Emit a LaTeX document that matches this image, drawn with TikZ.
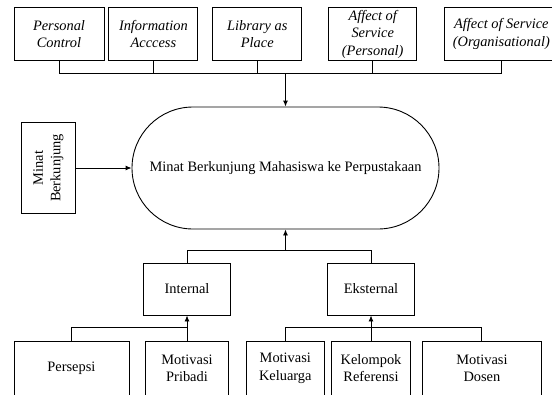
\documentclass[tikz,border=0pt]{standalone}
\usepackage{fontspec}
\setmainfont{Liberation Serif}
\usetikzlibrary{positioning,arrows.meta}

\begin{document}
\begin{tikzpicture}[x=1pt, y=1pt, font=\fontsize{14.4}{17.5}\selectfont,
    box/.style = {rectangle, draw, line width=0.9pt, align=center, inner sep=2pt},
    top/.style = {box, minimum height=53.4pt, font=\fontsize{14.4}{17.5}\selectfont\itshape},
    low/.style = {box, minimum height=54pt},
    link/.style = {line width=0.9pt},
    arr/.style = {link, -{Latex[length=6pt, width=5pt]}}]
    \useasboundingbox (0,0) rectangle (552,-394);
    \node[top, minimum width=90pt] (pc) at (59,-34) {Personal\\Control};
    \node[top, minimum width=89pt] (ia) [right=4pt of pc] {Information\\Acccess};
    \node[top, minimum width=89pt] (lp) [right=14pt of ia] {Library as\\Place};
    \node[top, minimum width=88pt] (ap) [right=26pt of lp] {Affect of\\Service\\(Personal)};
    \node[top, minimum width=113.5pt] (ao) [right=27pt of ap] {Affect of Service\\(Organisational)};
    \coordinate (bus) at (285.5,-73.3);
    \draw[link] (pc.south) -- (pc.south |- bus) -- (ao.south |- bus) -- (ao.south);
    \foreach \n in {ia,lp,ap}
        \draw[link] (\n.south) -- (\n.south |- bus);
    \node[box, rounded corners=61pt, minimum width=307pt, minimum height=122pt] (goal) at (285.5,-168) {Minat Berkunjung Mahasiswa ke Perpustakaan};
    \draw[arr] (bus) -- (goal.north);
    \node[box, rotate=90, minimum width=90.6pt, minimum height=53.3pt] (mb) at (48.3,-168) {Minat\\Berkunjung};
    \draw[arr] (mb.south) -- (goal.west);
    \node[box, minimum width=86.7pt, minimum height=52pt] (int) at (187,-289) {Internal};
    \node[box, minimum width=86.7pt, minimum height=52pt] (eks) at (371,-289) {Eksternal};
    \coordinate (mid) at (285.5,-250.7);
    \draw[link] (int.north) |- (mid) -| (eks.north);
    \draw[arr] (mid) -- (goal.south);
    \node[low, minimum width=83.7pt] (mp) at (187,-368.3) {Motivasi\\Pribadi};
    \node[low, minimum width=115pt] (ps) [left=15.3pt of mp] {Persepsi};
    \node[low, minimum width=77.3pt] (mk) at (285.3,-368.3) {Motivasi\\Keluarga};
    \node[low, minimum width=79.4pt] (kr) at (371,-368.3) {Kelompok\\Referensi};
    \node[low, minimum width=119.4pt] (md) [right=10.6pt of kr] {Motivasi\\Dosen};
    \draw[link] (ps.north) -- ++(0,13) -| (mp.north);
    \draw[arr] (mp.north) -- (int.south);
    \draw[link] (mk.north) -- ++(0,13) -| (md.north);
    \draw[arr] (kr.north) -- (eks.south);
\end{tikzpicture}
\end{document}
